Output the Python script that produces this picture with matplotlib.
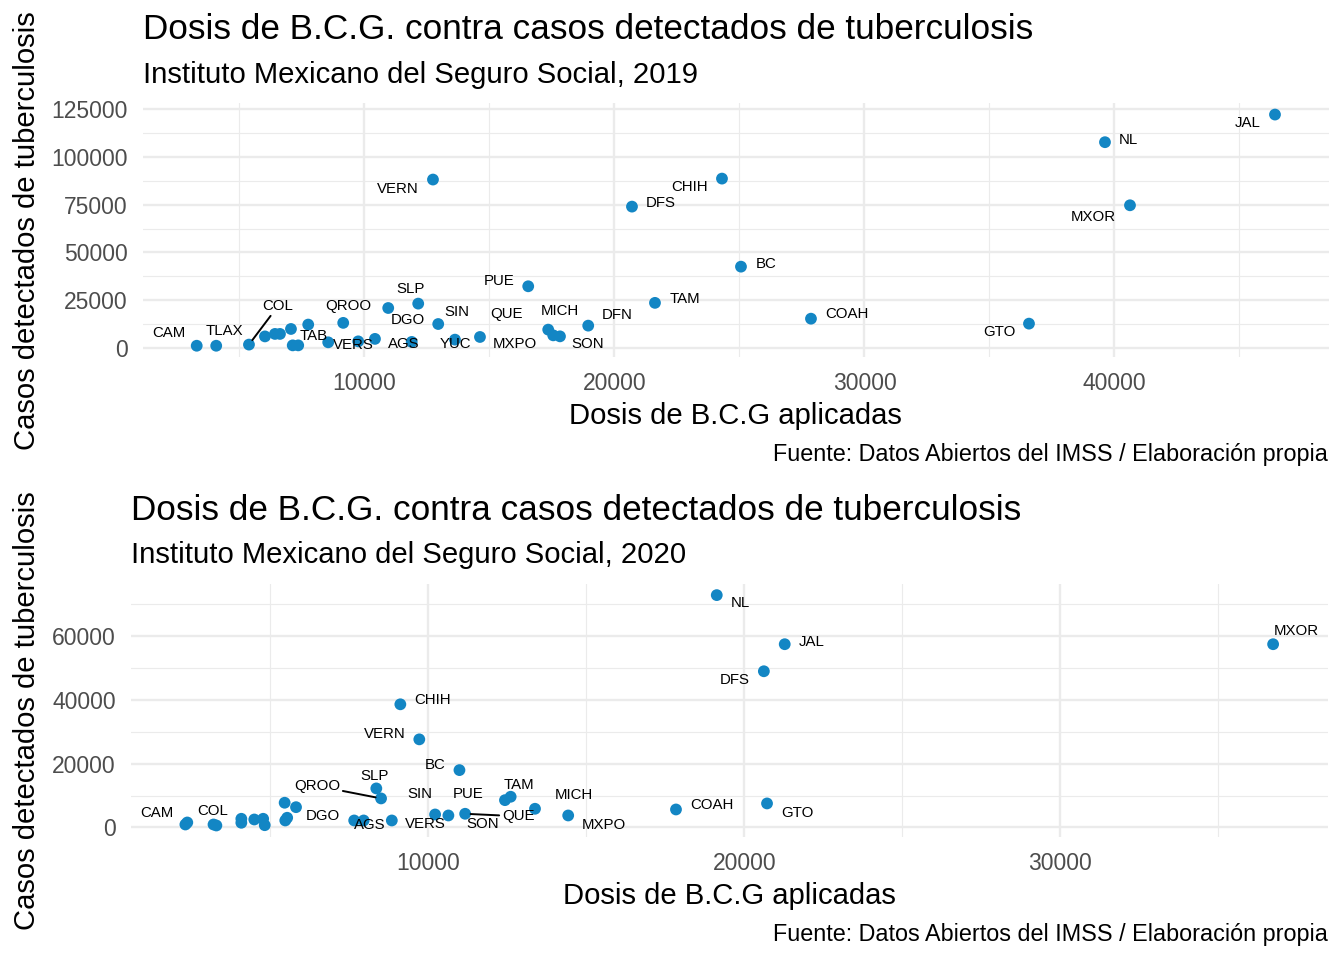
import matplotlib.pyplot as plt
from matplotlib.ticker import MultipleLocator, FuncFormatter

plt.rcParams['font.family'] = ['Liberation Sans', 'DejaVu Sans']

# %%
# Datos 2019 (IMSS): dosis aplicadas de B.C.G. y casos detectados de tuberculosis
estados_2019 = ['CAM', 'TLAX', 'COL', 'BCS', 'NAY', 'ZAC', 'MOR', 'CHIS', 'TAB',
                'HGO', 'OAX', 'QROO', 'VERS', 'GRO', 'DGO', 'AGS', 'SLP', 'SIN',
                'YUC', 'MXPO', 'PUE', 'QUE', 'MICH', 'SON', 'DFN', 'TAM', 'DFS',
                'VERN', 'CHIH', 'BC', 'COAH', 'GTO', 'NL', 'MXOR', 'JAL']
dosis_2019 = [3290, 4070, 5380, 6020, 6420, 6620, 7060, 7130, 7350,
              7750, 8550, 9150, 9750, 10420, 10950, 11890, 12150, 12950,
              13620, 14620, 16550, 17350, 17550, 17820, 18950, 21620, 20700,
              12740, 24300, 25060, 27860, 36580, 39620, 40620, 46420]
casos_2019 = [1000, 1000, 1600, 5900, 7200, 7200, 9800, 1200, 1200,
              12100, 2800, 13000, 3300, 4600, 20800, 3000, 23100, 12400,
              4200, 5600, 32200, 9450, 6460, 5930, 11550, 23500, 74000,
              88200, 88700, 42500, 15200, 12600, 107800, 74700, 122300]

# Datos 2020
estados_2020 = ['CAM', 'TLAX', 'COL', 'BCS', 'NAY', 'ZAC', 'MOR', 'CHIS', 'TAB',
                'HGO', 'DGO', 'YUC', 'OAX', 'AGS', 'VERS', 'SIN', 'SLP', 'QROO',
                'PUE', 'SON', 'BC', 'QUE', 'DFN', 'TAM', 'MICH', 'MXPO', 'NL',
                'JAL', 'DFS', 'MXOR', 'CHIH', 'VERN', 'COAH', 'GTO']
dosis_2020 = [2320, 2380, 3210, 3300, 4090, 4090, 4500, 4780, 4830,
              5460, 5820, 5540, 5480, 7660, 7960, 8850, 8360, 8510,
              10220, 10640, 10990, 11170, 12430, 12610, 13380, 14430, 19130,
              21280, 20620, 36730, 9120, 9720, 17840, 20720]
casos_2020 = [940, 1570, 940, 630, 2730, 1480, 2510, 2730, 720,
              7760, 6370, 3050, 2200, 2200, 2200, 2200, 12250, 9110,
              4080, 3770, 17990, 4300, 8570, 9640, 5870, 3770, 72850,
              57460, 48980, 57460, 38620, 27630, 5650, 7540]

# posicion de las etiquetas respecto al punto (pixeles), como las dejo ggrepel
etiquetas_2019 = {
    'CAM': (-28, 14), 'TLAX': (8, 16), 'COL': (29, 40), 'TAB': (15, 11),
    'QROO': (5, 18), 'VERS': (-5, -2), 'AGS': (-8, -1), 'SLP': (-8, 16),
    'DGO': (20, -10), 'SIN': (19, 14), 'YUC': (0, -3), 'MXPO': (35, -6),
    'QUE': (-42, 17), 'MICH': (7, 26), 'SON': (28, -6), 'DFN': (29, 12),
    'PUE': (-29, 7), 'TAM': (30, 5), 'DFS': (29, 5), 'VERN': (-35, -8),
    'CHIH': (-32, -7), 'BC': (25, 4), 'COAH': (36, 6), 'GTO': (-30, -7),
    'NL': (23, 4), 'MXOR': (-37, -10), 'JAL': (-27, -7),
}
etiquetas_2020 = {
    'CAM': (-29, 13), 'COL': (-1, 15), 'DGO': (27, -7), 'AGS': (16, -3),
    'VERS': (62, -2), 'SIN': (28, 28), 'SLP': (-2, 14), 'QROO': (-64, 14),
    'PUE': (33, 22), 'SON': (34, -7), 'BC': (-24, 7), 'QUE': (53, -1),
    'TAM': (8, 13), 'MICH': (39, 15), 'MXPO': (36, -8), 'COAH': (36, 6),
    'GTO': (30, -8), 'NL': (24, -6), 'JAL': (27, 4), 'DFS': (-29, -7),
    'MXOR': (23, 15), 'CHIH': (32, 6), 'VERN': (-34, 7),
}
con_linea_2019 = {'COL'}
con_linea_2020 = {'QROO', 'QUE'}

W, H = 1344, 960
azul = '#1386C4'
gris = '#EBEBEB'

fig = plt.figure(figsize=(W / 100, H / 100), dpi=100)


def px(x, y):
    return x / W, 1 - y / H


def panel(rect, x, y, estados, etiquetas, lineas, paso_x, paso_y):
    ax = fig.add_axes(rect)
    ax.scatter(x, y, s=72, color=azul, edgecolors='none', zorder=3)
    for nombre, xi, yi in zip(estados, x, y):
        if nombre not in etiquetas:
            continue
        flecha = None
        if nombre in lineas:
            flecha = dict(arrowstyle='-', color='black', lw=1.4,
                          shrinkA=0, shrinkB=4)
        ax.annotate(nombre, (xi, yi), xytext=etiquetas[nombre],
                    textcoords='offset pixels', ha='center',
                    va='center_baseline', fontsize=10.8, color='black',
                    arrowprops=flecha, zorder=4)
    ax.xaxis.set_major_locator(MultipleLocator(paso_x))
    ax.xaxis.set_minor_locator(MultipleLocator(paso_x / 2))
    ax.yaxis.set_major_locator(MultipleLocator(paso_y))
    ax.yaxis.set_minor_locator(MultipleLocator(paso_y / 2))
    fmt = FuncFormatter(lambda v, p: f'{v:.0f}')
    ax.xaxis.set_major_formatter(fmt)
    ax.yaxis.set_major_formatter(fmt)
    ax.grid(which='major', color=gris, lw=1.7, zorder=0)
    ax.grid(which='minor', color=gris, lw=0.85, zorder=0)
    ax.set_axisbelow(True)
    ax.tick_params(which='both', length=0, labelsize=16.5, colors='#4D4D4D')
    ax.tick_params(axis='x', pad=10.8)
    ax.tick_params(axis='y', pad=11)
    for s in ax.spines.values():
        s.set_visible(False)
    return ax


def textos(izq, der, base_titulo, base_sub, base_xlab, base_cap, centro_y, anio):
    fig.text(*px(izq, base_titulo), 'Dosis de B.C.G. contra casos detectados de tuberculosis',
             fontsize=25.3, ha='left', va='baseline')
    fig.text(*px(izq, base_sub), f'Instituto Mexicano del Seguro Social, {anio}',
             fontsize=21.1, ha='left', va='baseline')
    fig.text(*px((izq + der) / 2, base_xlab), 'Dosis de B.C.G aplicadas',
             fontsize=21.1, ha='center', va='baseline')
    fig.text(*px(35.5, centro_y), 'Casos detectados de tuberculosis',
             fontsize=21.1, ha='center', va='baseline', rotation=90,
             rotation_mode='anchor')
    fig.text(*px(1328, base_cap), 'Fuente: Datos Abiertos del IMSS / Elaboración propia',
             fontsize=16.8, ha='right', va='baseline')


# %%
# 2019
izq1, der1, arr1, aba1 = 142.8, 1328.9, 103.0, 357.3
panel([izq1 / W, 1 - aba1 / H, (der1 - izq1) / W, (aba1 - arr1) / H],
      dosis_2019, casos_2019, estados_2019, etiquetas_2019, con_linea_2019,
      10000, 25000)
textos(izq1, der1, 39, 83, 423.5, 461.4, (arr1 + aba1) / 2, 2019)

# 2020
izq2, der2, arr2, aba2 = 131.0, 1327.5, 583.6, 837.0
panel([izq2 / W, 1 - aba2 / H, (der2 - izq2) / W, (aba2 - arr2) / H],
      dosis_2020, casos_2020, estados_2020, etiquetas_2020, con_linea_2020,
      10000, 20000)
textos(izq2, der2, 520, 563, 903.5, 941.4, (arr2 + aba2) / 2, 2020)

plt.savefig('out.png', dpi=100)
